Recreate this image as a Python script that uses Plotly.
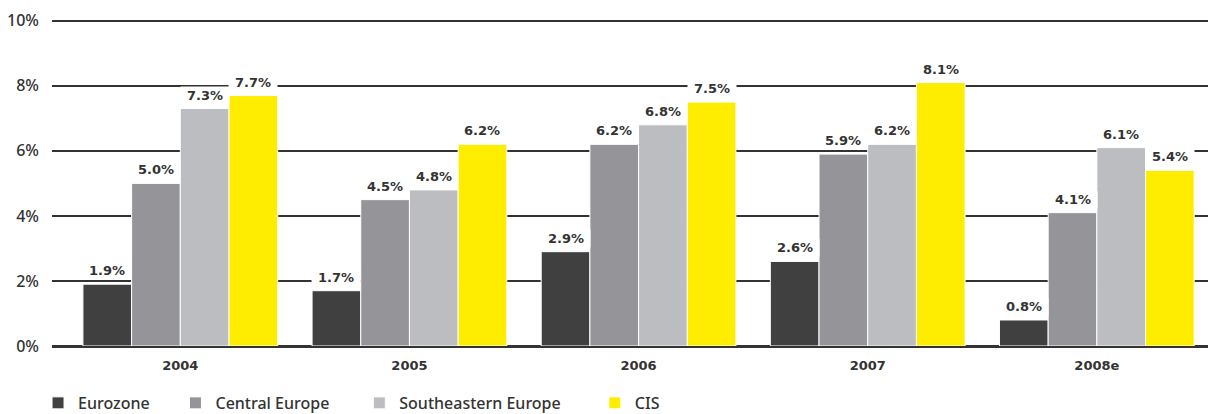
import plotly.graph_objects as go

years = ['2004', '2005', '2006', '2007', '2008e']
eurozone = [1.9, 1.7, 2.9, 2.6, 0.8]
central_europe = [5.0, 4.5, 6.2, 5.9, 4.1]
southeastern_europe = [7.3, 4.8, 6.8, 6.2, 6.1]
cis = [7.7, 6.2, 7.5, 8.1, 5.4]

series = [
    ('Eurozone', eurozone, '#404040'),
    ('Central Europe', central_europe, '#959599'),
    ('Southeastern Europe', southeastern_europe, '#bcbdc0'),
    ('CIS', cis, '#ffed00'),
]

FONT = 'DejaVu Sans'
SOFT = 'Noto Sans'
TXT = '#333333'
bargap = 0.15
bar_w = (1 - bargap) / len(series)
legend_pad = [5, 6, 7, 0]  # nbsp count after each legend name, spaces entries out

fig = go.Figure()
for (name, vals, col), p in zip(series, legend_pad):
    fig.add_trace(go.Bar(
        x=list(range(len(years))), y=vals, name=name + '\u00a0' * p,
        marker=dict(color=col, line=dict(color='white', width=1)),
    ))

# value labels with white background so they break the gridlines
for k, (name, vals, col) in enumerate(series):
    off = (k - (len(series) - 1) / 2) * bar_w
    for i, v in enumerate(vals):
        fig.add_annotation(
            x=i + off, y=v, xref='x', yref='y',
            text=f'<b>{v:.1f}%</b>', showarrow=False,
            yanchor='bottom', yshift=4,
            font=dict(family=FONT, size=13, color=TXT),
            bgcolor='white', width=46,
        )

# page body has an 8px margin, so the figure is 8px smaller than the window
fig.update_layout(
    width=1208, height=406,
    margin=dict(l=44, r=0, t=3, b=68, autoexpand=False),
    plot_bgcolor='white', paper_bgcolor='white',
    barmode='group', bargap=bargap, bargroupgap=0,
    font=dict(family=FONT, color=TXT),
    showlegend=True,
    legend=dict(
        orientation='h', x=-0.012, xanchor='left', y=-0.17, yanchor='middle',
        font=dict(family=SOFT, size=16, color=TXT, weight=500),
        itemwidth=30, tracegroupgap=0,
    ),
    xaxis=dict(
        tickmode='array', tickvals=list(range(len(years))),
        ticktext=[f'<b>{y}</b>' for y in years],
        range=[-0.56, 4.52], showgrid=False, zeroline=False,
        tickfont=dict(family=FONT, size=13, color=TXT),
        ticks='', ticklabelstandoff=10, automargin=False,
    ),
    yaxis=dict(
        range=[0, 10.3], tickvals=[0, 2, 4, 6, 8, 10],
        ticktext=['0%', '2%', '4%', '6%', '8%', '10%'],
        showgrid=True, gridcolor='#333333', gridwidth=1.5,
        zeroline=True, zerolinecolor='#333333', zerolinewidth=3,
        tickfont=dict(family=SOFT, size=16, color=TXT, weight=500),
        ticks='', ticklabelstandoff=12, automargin=False,
    ),
)

fig.write_html('out.html')
